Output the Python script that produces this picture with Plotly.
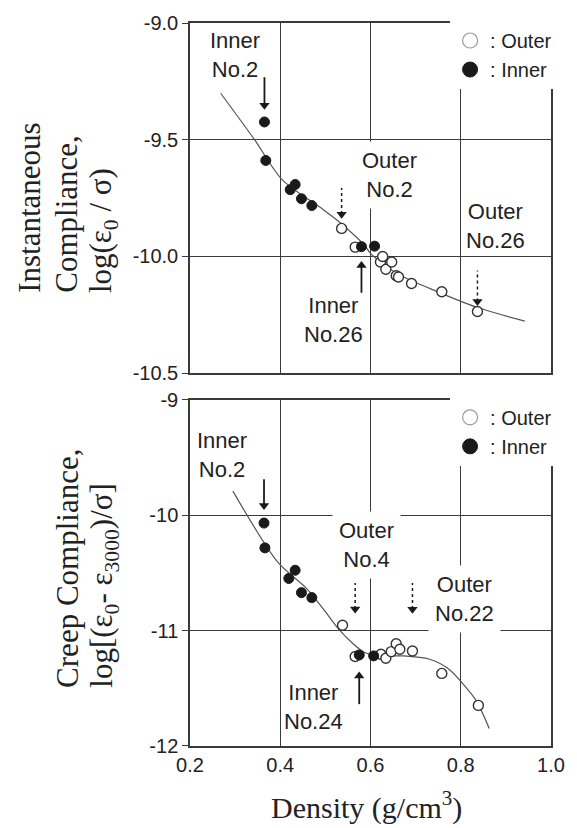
import plotly.graph_objects as go

# ---- data: density (g/cm3) vs. compliance ----
# upper panel: instantaneous compliance log(eps0/sigma)
top_outer_x = [0.536, 0.566, 0.622, 0.627, 0.634, 0.647, 0.657, 0.662, 0.691, 0.758, 0.837]
top_outer_y = [-9.880, -9.960, -10.024, -10.000, -10.055, -10.024, -10.083, -10.088, -10.116, -10.151, -10.236]
top_inner_x = [0.365, 0.368, 0.422, 0.433, 0.447, 0.470, 0.580, 0.609]
top_inner_y = [-9.424, -9.589, -9.714, -9.692, -9.753, -9.782, -9.958, -9.956]
top_fit_x = [0.268, 0.343, 0.404, 0.494, 0.536, 0.587, 0.601, 0.659, 0.731, 0.837, 0.942]
top_fit_y = [-9.301, -9.500, -9.671, -9.798, -9.861, -9.953, -9.989, -10.073, -10.137, -10.219, -10.277]

# lower panel: creep compliance log[(eps0 - eps3000)/sigma]
bot_outer_x = [0.538, 0.566, 0.623, 0.634, 0.646, 0.657, 0.665, 0.693, 0.758, 0.839]
bot_outer_y = [-10.954, -11.225, -11.205, -11.239, -11.182, -11.114, -11.162, -11.177, -11.371, -11.648]
bot_inner_x = [0.364, 0.366, 0.419, 0.433, 0.447, 0.470, 0.575, 0.607]
bot_inner_y = [-10.068, -10.283, -10.548, -10.477, -10.671, -10.714, -11.211, -11.219]
bot_fit_x = [0.295, 0.394, 0.458, 0.494, 0.530, 0.559, 0.587, 0.623, 0.673, 0.731, 0.774, 0.802, 0.834, 0.863]
bot_fit_y = [-9.791, -10.405, -10.634, -10.805, -10.990, -11.105, -11.190, -11.219, -11.219, -11.248, -11.334, -11.448, -11.605, -11.848]

x_ticks = [0.2, 0.4, 0.6, 0.8, 1.0]
x_ticktext = ["0.2", "0.4", "0.6", "0.8", "1.0"]
top_ticks = [-10.5, -10.0, -9.5, -9.0]
top_ticktext = ["-10.5", "-10.0", "-9.5", "-9.0"]
bot_ticks = [-12, -11, -10, -9]
bot_ticktext = ["-12", "-11", "-10", "-9"]

W, H = 577, 828
ML, MR, MT, MB = 190, 15, 15, 82
PW, PH = W - ML - MR, H - MT - MB
TOP_DOMAIN = [0.5157, 1.0]
BOT_DOMAIN = [0.0, 0.4788]
TOP_RANGE = [-10.5, -9.0]
BOT_RANGE = [-12, -9]

INK = "#222222"
GRID = "#3a3a3a"
ARROW = "#1a1a1a"
SANS = "Liberation Sans, Arial, sans-serif"
SERIF = "Liberation Serif, Times New Roman, serif"

# data units per screen pixel on each y axis
Y_PER_PX = {
    "y": (TOP_RANGE[1] - TOP_RANGE[0]) / (PH * (TOP_DOMAIN[1] - TOP_DOMAIN[0])),
    "y2": (BOT_RANGE[1] - BOT_RANGE[0]) / (PH * (BOT_DOMAIN[1] - BOT_DOMAIN[0])),
}


def paper_x(px):
    return (px - ML) / PW


def paper_y(py):
    return (H - MB - py) / PH


fig = go.Figure()


def add_panel(xa, ya, fit_x, fit_y, out_x, out_y, in_x, in_y, legend):
    fig.add_trace(go.Scatter(x=fit_x, y=fit_y, mode="lines", xaxis=xa, yaxis=ya,
                             line=dict(color="#555555", width=1.2, shape="spline", smoothing=0.8),
                             showlegend=False, hoverinfo="skip"))
    fig.add_trace(go.Scatter(x=out_x, y=out_y, mode="markers", xaxis=xa, yaxis=ya,
                             marker=dict(symbol="circle", size=10, color="white",
                                         line=dict(color="#333333", width=1.4)),
                             showlegend=False))
    fig.add_trace(go.Scatter(x=in_x, y=in_y, mode="markers", xaxis=xa, yaxis=ya,
                             marker=dict(symbol="circle", size=10, color="#1a1a1a",
                                         line=dict(color="#1a1a1a", width=1)),
                             showlegend=False))
    # key entries
    fig.add_trace(go.Scatter(x=[None], y=[None], mode="markers", xaxis=xa, yaxis=ya,
                             name=": Outer", legend=legend,
                             marker=dict(symbol="circle", size=15, color="white",
                                         line=dict(color="#9a9a9a", width=1.2))))
    fig.add_trace(go.Scatter(x=[None], y=[None], mode="markers", xaxis=xa, yaxis=ya,
                             name=": Inner", legend=legend,
                             marker=dict(symbol="circle", size=15, color="#1a1a1a",
                                         line=dict(color="#1a1a1a", width=1))))


add_panel("x", "y", top_fit_x, top_fit_y, top_outer_x, top_outer_y,
          top_inner_x, top_inner_y, "legend")
add_panel("x2", "y2", bot_fit_x, bot_fit_y, bot_outer_x, bot_outer_y,
          bot_inner_x, bot_inner_y, "legend2")

# ---- pointer arrows: (x axis, y axis, x, tip y, tail offset in px (+ = tail above), dotted) ----
arrows = [
    ("x", "y", top_inner_x[0], top_inner_y[0] + 0.05, 33, False),
    ("x", "y", top_inner_x[6], top_inner_y[6] - 0.06, -32, False),
    ("x", "y", top_outer_x[0], top_outer_y[0] + 0.04, 31, True),
    ("x", "y", top_outer_x[-1], top_outer_y[-1] + 0.022, 36, True),
    ("x2", "y2", bot_inner_x[0], bot_inner_y[0] + 0.11, 31, False),
    ("x2", "y2", bot_inner_x[6], bot_inner_y[6] - 0.14, -33, False),
    ("x2", "y2", bot_outer_x[1], bot_outer_y[1] + 0.37, 31, True),
    ("x2", "y2", bot_outer_x[7], bot_outer_y[7] + 0.32, 31, True),
]
HEAD = 5  # half height of the arrowhead, px
heads = {"y": ([], [], []), "y2": ([], [], [])}
for xr, yr, ax_, tip, up, dotted in arrows:
    sign = 1 if up > 0 else -1
    fig.add_shape(type="line", xref=xr, yref=yr, xsizemode="scaled", ysizemode="pixel",
                  yanchor=tip, x0=ax_, x1=ax_, y0=sign * HEAD, y1=up,
                  line=dict(color=ARROW, width=1.5 if dotted else 1.8,
                            dash="dot" if dotted else "solid"))
    hx, hy, hs = heads[yr]
    hx.append(ax_)
    hy.append(tip + sign * HEAD * Y_PER_PX[yr])
    hs.append("triangle-down" if sign > 0 else "triangle-up")

for xr, yr in (("x", "y"), ("x2", "y2")):
    hx, hy, hs = heads[yr]
    fig.add_trace(go.Scatter(x=hx, y=hy, mode="markers", xaxis=xr, yaxis=yr,
                             marker=dict(symbol=hs, size=9, color=ARROW,
                                         line=dict(width=0)),
                             showlegend=False, hoverinfo="skip"))

axis_common = dict(showline=True, linecolor=GRID, linewidth=1.5, mirror=True,
                   showgrid=True, gridcolor=GRID, gridwidth=1.3, zeroline=False,
                   tickfont=dict(family=SANS, size=20, color=INK))

legend_style = dict(xanchor="left", yanchor="top", bgcolor="white", borderwidth=0,
                    itemwidth=30, tracegroupgap=0,
                    font=dict(family=SANS, size=20, color=INK))

fig.update_layout(
    width=W, height=H,
    margin=dict(l=ML, r=MR, t=MT, b=MB),
    paper_bgcolor="white", plot_bgcolor="white",
    xaxis=dict(domain=[0, 1], range=[0.2, 1.0], anchor="y", tickvals=x_ticks,
               showticklabels=False, ticks="", **axis_common),
    yaxis=dict(domain=TOP_DOMAIN, range=TOP_RANGE, anchor="x", tickvals=top_ticks,
               ticktext=top_ticktext, ticks="outside", ticklen=6, tickcolor=GRID,
               tickwidth=1.3, **axis_common),
    xaxis2=dict(domain=[0, 1], range=[0.2, 1.0], anchor="y2", tickvals=x_ticks,
                ticktext=x_ticktext, ticks="", **axis_common),
    yaxis2=dict(domain=BOT_DOMAIN, range=BOT_RANGE, anchor="x2", tickvals=bot_ticks,
                ticktext=bot_ticktext, ticks="outside", ticklen=6, tickcolor=GRID,
                tickwidth=1.3, **axis_common),
    legend=dict(x=paper_x(458), y=paper_y(13), **legend_style),
    legend2=dict(x=paper_x(458), y=paper_y(394), **legend_style),
    showlegend=True,
)

# ---- text labels ----
labels = [
    ("x", "y", 0.300, -9.135, "Inner<br>No.2", False),
    ("x", "y", 0.641, -9.650, "Outer<br>No.2", True),
    ("x", "y", 0.518, -10.272, "Inner<br>No.26", False),
    ("x", "y", 0.878, -9.870, "Outer<br>No.26", False),
    ("x2", "y2", 0.272, -9.480, "Inner<br>No.2", False),
    ("x2", "y2", 0.592, -10.262, "Outer<br>No.4", True),
    ("x2", "y2", 0.808, -10.722, "Outer<br>No.22", True),
    ("x2", "y2", 0.474, -11.660, "Inner<br>No.24", False),
]
for xr, yr, lx, ly, txt, bg in labels:
    fig.add_annotation(xref=xr, yref=yr, x=lx, y=ly, text=txt, showarrow=False,
                       xanchor="center", yanchor="middle", align="center",
                       font=dict(family=SANS, size=22, color=INK),
                       bgcolor="white" if bg else None, borderpad=6)

# ---- axis titles (one rotated line each, bottom-aligned) ----
title_font = dict(family=SERIF, size=31, color=INK)
top_title = [(25, "Instantaneous"), (63, "Compliance,"), (101, "log(ε<sub>0</sub> / σ)")]
bot_title = [(63, "Creep Compliance,"), (102, "log[(ε<sub>0</sub>- ε<sub>3000</sub>)/σ]")]
for cx, line in top_title:
    fig.add_annotation(xref="paper", yref="paper", x=paper_x(cx), y=paper_y(290),
                       text=line, textangle=-90, showarrow=False,
                       xanchor="center", yanchor="bottom", font=title_font)
for cx, line in bot_title:
    fig.add_annotation(xref="paper", yref="paper", x=paper_x(cx), y=paper_y(689),
                       text=line, textangle=-90, showarrow=False,
                       xanchor="center", yanchor="bottom", font=title_font)
fig.add_annotation(xref="paper", yref="paper", x=paper_x(372), y=paper_y(806),
                   text="Density (g/cm<sup>3</sup>)", showarrow=False,
                   xanchor="center", yanchor="middle",
                   font=dict(family=SERIF, size=30, color=INK))

fig.write_html("out.html")
